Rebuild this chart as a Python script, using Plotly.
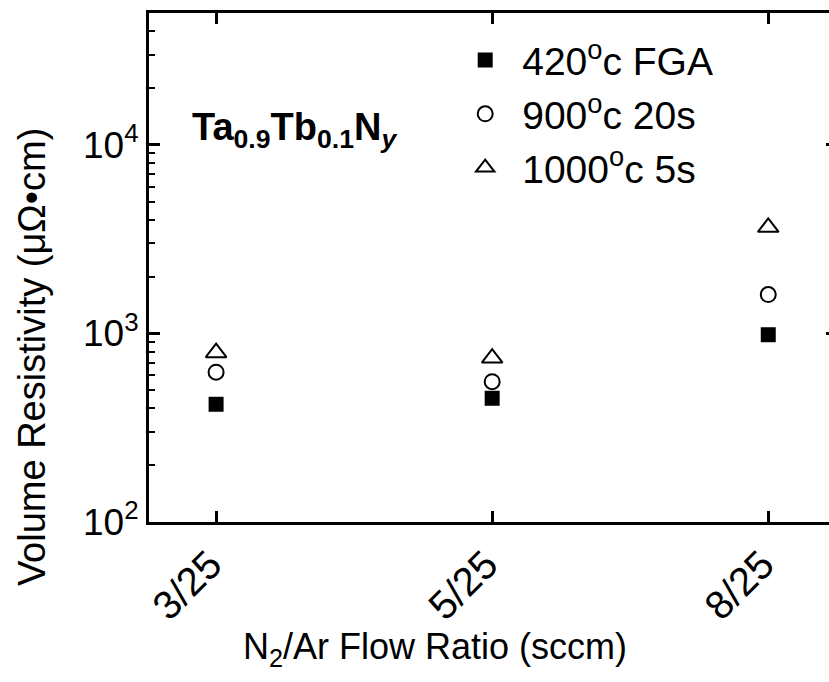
import plotly.graph_objects as go

categories = ["3/25", "5/25", "8/25"]
cat_pos = [1, 2, 3]
fga_420 = [421, 453, 984]
rta_900 = [623, 555, 1606]
rta_1000 = [790, 740, 3650]

series_names = ["420<sup>o</sup>c FGA", "900<sup>o</sup>c 20s", "1000<sup>o</sup>c 5s"]

y_major = [100, 1000, 10000]
y_major_text = ["10<sup>2</sup>", "10<sup>3</sup>", "10<sup>4</sup>"]
y_max = 5e4

FONT = "Liberation Sans, Arial, sans-serif"

minor_vals = [m * 10 ** e for e in (2, 3, 4) for m in range(2, 10) if m * 10 ** e <= y_max]
y_range = [2, 4.699]

fig = go.Figure()
fig.add_trace(go.Scatter(
    x=cat_pos, y=fga_420, mode="markers", name=series_names[0],
    marker=dict(symbol="square", size=15, color="black", line=dict(width=0))))
fig.add_trace(go.Scatter(
    x=cat_pos, y=rta_900, mode="markers", name=series_names[1],
    marker=dict(symbol="circle-open", size=15, color="black", line=dict(width=2))))
fig.add_trace(go.Scatter(
    x=cat_pos, y=rta_1000, mode="markers", name=series_names[2],
    marker=dict(symbol="triangle-up-open", size=18, color="black", line=dict(width=2))))

fig.update_layout(
    width=829, height=682,
    margin=dict(l=149, r=0, t=13, b=160, autoexpand=False),
    plot_bgcolor="white", paper_bgcolor="white",
    font=dict(family=FONT, color="black", size=36),
    showlegend=True,
    legend=dict(x=0.44, y=0.97, xanchor="left", yanchor="top",
                font=dict(size=39, family=FONT), bgcolor="rgba(0,0,0,0)",
                itemwidth=64, tracegroupgap=0),
    xaxis=dict(
        range=[0.757, 3.22], tickvals=cat_pos, ticktext=categories,
        tickangle=-45, tickfont=dict(size=40), ticklabelshift=-6,
        ticks="inside", ticklen=11, tickwidth=2.5, tickcolor="black",
        showline=True, linecolor="black", linewidth=3, mirror="ticks",
        showgrid=False, zeroline=False, automargin=False,
    ),
    yaxis=dict(
        type="log", range=y_range, tickvals=y_major, ticktext=y_major_text,
        tickfont=dict(size=37),
        ticks="inside", ticklen=11, tickwidth=2.5, tickcolor="black",
        showline=True, linecolor="black", linewidth=3,
        showgrid=False, zeroline=False, automargin=False,
    ),
    yaxis2=dict(
        type="log", range=y_range, overlaying="y", side="left", anchor="x",
        tickvals=minor_vals, showticklabels=False,
        ticks="inside", ticklen=6, tickwidth=2, tickcolor="black",
        showline=False, showgrid=False, zeroline=False, automargin=False,
    ),
    yaxis3=dict(
        type="log", range=y_range, overlaying="y", side="right", anchor="x",
        tickvals=y_major, showticklabels=False,
        ticks="inside", ticklen=3, tickwidth=2.5, tickcolor="black",
        showline=False, showgrid=False, zeroline=False, automargin=False,
    ),
    annotations=[
        dict(text="<b>Ta<sub>0.9</sub>Tb<sub>0.1</sub>N<sub><i>y</i></sub></b>",
             xref="paper", yref="paper", x=0.06, y=0.77, xanchor="left", yanchor="middle",
             showarrow=False, font=dict(size=38, family=FONT)),
        dict(text="N<sub>2</sub>/Ar Flow Ratio (sccm)",
             xref="paper", yref="paper", x=0.42, y=-0.25, xanchor="center", yanchor="middle",
             showarrow=False, font=dict(size=36, family=FONT)),
        dict(text="Volume Resistivity (\u03bc\u03a9\u2022cm)", textangle=-90,
             xref="paper", yref="paper", x=-0.172, y=0.324, xanchor="center", yanchor="middle",
             showarrow=False, font=dict(size=38, family=FONT)),
    ],
)

# invisible helpers so the extra tick axes are drawn
fig.add_trace(go.Scatter(x=[cat_pos[0]], y=[fga_420[0]], yaxis="y2", mode="markers",
                         marker=dict(opacity=0), showlegend=False, hoverinfo="skip"))
fig.add_trace(go.Scatter(x=[cat_pos[0]], y=[fga_420[0]], yaxis="y3", mode="markers",
                         marker=dict(opacity=0), showlegend=False, hoverinfo="skip"))

fig.write_html("out.html")
